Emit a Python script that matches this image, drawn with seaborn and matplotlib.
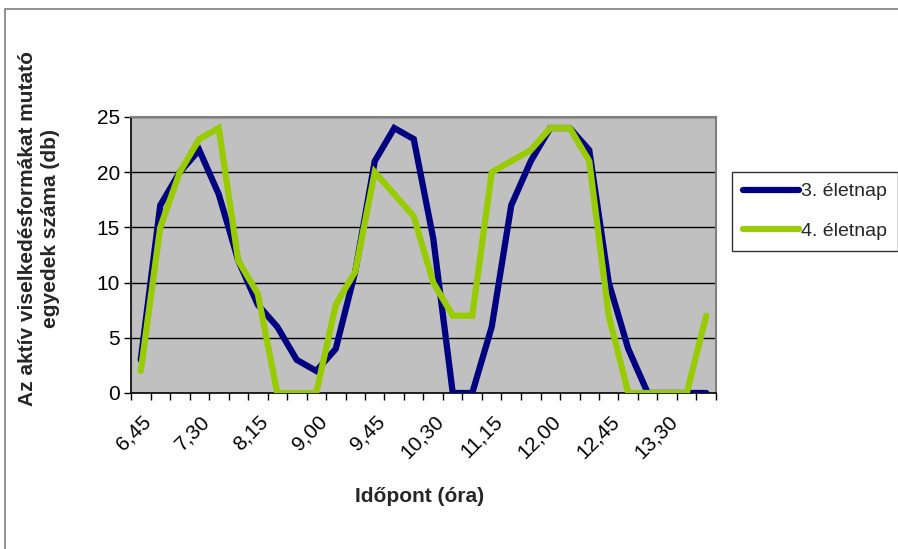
import matplotlib
matplotlib.use("Agg")
import matplotlib.pyplot as plt
import matplotlib.patches as mpatches
import seaborn as sns
import pandas as pd
import numpy as np

# Observation times, every 15 minutes from 6:45 to 14:00
times = ["6,45", "7,00", "7,15", "7,30", "7,45", "8,00", "8,15", "8,30", "8,45", "9,00",
         "9,15", "9,30", "9,45", "10,00", "10,15", "10,30", "10,45", "11,00", "11,15", "11,30",
         "11,45", "12,00", "12,15", "12,30", "12,45", "13,00", "13,15", "13,30", "13,45", "14,00"]

# Number of active individuals per time point
day3 = [3, 17, 20, 22, 18, 12, 8, 6, 3, 2, 4, 11, 21, 24, 23,
        14, 0, 0, 6, 17, 21, 24, 24, 22, 10, 4, 0, 0, 0, 0]
day4 = [2, 15, 20, 23, 24, 12, 9, 0, 0, 0, 8, 11, 20, 18, 16,
        10, 7, 7, 20, 21, 22, 24, 24, 21, 7, 0, 0, 0, 0, 7]

series_names = ["3. életnap", "4. életnap"]
series_colors = ["#000080", "#99CC00"]

df = pd.DataFrame({
    "pos": list(range(len(times))) * 2,
    "ido": times * 2,
    "db": day3 + day4,
    "nap": [series_names[0]] * len(times) + [series_names[1]] * len(times),
})

sns.set_theme(style="white")
plt.rcParams["font.family"] = ["Liberation Sans", "DejaVu Sans"]

FS = 15

fig = plt.figure(figsize=(8.98, 5.49), dpi=100)
ax = fig.add_axes([131 / 898, 1 - 393 / 549, 585 / 898, 276 / 549])
ax.set_facecolor("#C0C0C0")

sns.lineplot(data=df, x="pos", y="db", hue="nap", palette=dict(zip(series_names, series_colors)),
             linewidth=4.5, ax=ax, legend=False, solid_joinstyle="miter", zorder=3)

n = len(times)
ax.set_xlim(-0.5, n - 0.5)
ax.set_ylim(0, 25)

# Y axis
ax.set_yticks(range(0, 26, 5))
ax.tick_params(axis="y", labelsize=FS, length=5, width=1, direction="out", color="black",
               left=True, pad=3, labelcolor="black")
for v in range(5, 26, 5):
    ax.axhline(v, color="black", lw=1, zorder=1)

# X axis: tick marks between categories, labels every 45 minutes
ax.set_xticks(np.arange(-0.5, n, 1.0))
ax.set_xticklabels([])
ax.tick_params(axis="x", length=5, width=1, direction="out", color="black", bottom=True)
label_pos = list(range(0, n, 3))
for p in label_pos:
    ax.text(p + 0.05, -1.7, times[p], rotation=45, ha="right", va="top",
            rotation_mode="anchor", fontsize=FS, color="black", transform=ax.transData)

for side in ["left", "bottom"]:
    ax.spines[side].set_color("black")
    ax.spines[side].set_linewidth(1.2)
for side in ["top", "right"]:
    ax.spines[side].set_color("#808080")
    ax.spines[side].set_linewidth(1.5)

ax.set_xlabel("")
ax.set_ylabel("")

fig.text(39 / 898, 1 - 229 / 549, "Az aktív viselkedésformákat mutató\negyedek száma (db)",
         rotation=90, ha="center", va="center", fontsize=FS, fontweight="bold",
         linespacing=1.2)
fig.text(420 / 898, 1 - 497 / 549, "Időpont (óra)", ha="center", va="center",
         fontsize=FS, fontweight="bold")

# Legend
handles = [plt.Line2D([], [], color=c, lw=4.5, solid_capstyle="round") for c in series_colors]
leg = fig.legend(handles, series_names, loc="upper left",
                 bbox_to_anchor=(732 / 898, 1 - 172 / 549), fontsize=14,
                 frameon=True, fancybox=False, handlelength=2.9, handletextpad=0.1,
                 labelspacing=1.15, borderpad=0.55, borderaxespad=0)
leg.get_frame().set_edgecolor("black")
leg.get_frame().set_linewidth(1)

# Chart-area border
fig.patches.append(mpatches.Rectangle((4.5 / 898, -0.1), 1.2, 1 - 8.5 / 549 + 0.1,
                                      transform=fig.transFigure, fill=False,
                                      edgecolor="#808080", lw=1.2))

fig.savefig("out.png", dpi=100, facecolor="white")
